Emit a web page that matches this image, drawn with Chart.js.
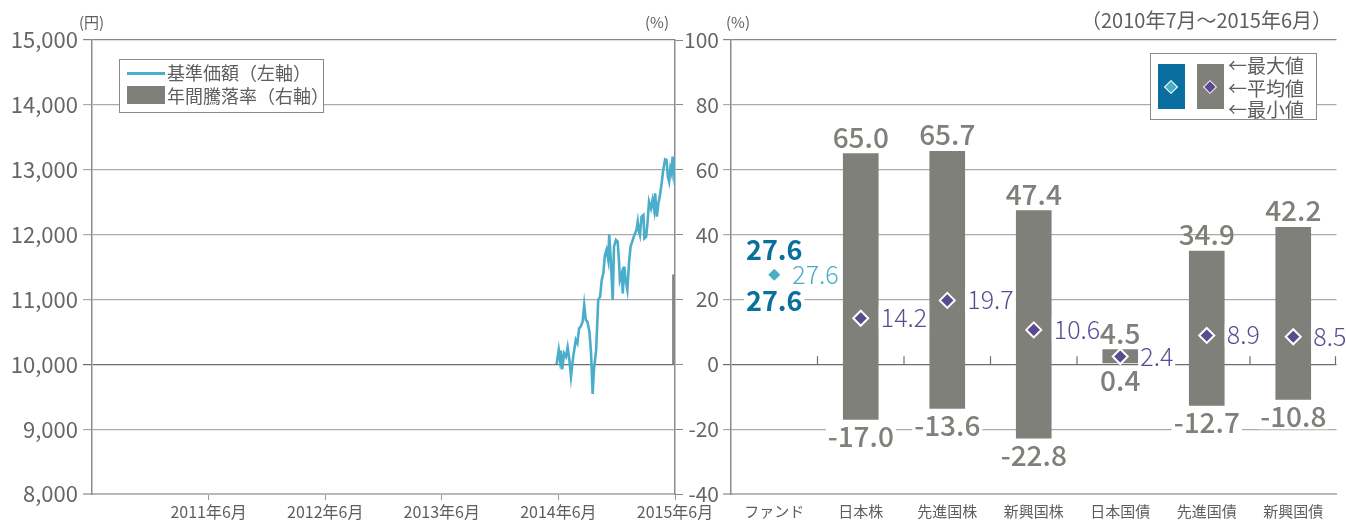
<!DOCTYPE html>
<html><head><meta charset="utf-8">
<script src="https://cdn.jsdelivr.net/npm/chart.js@4.4.1/dist/chart.umd.min.js"></script>
<style>
html,body{margin:0;padding:0;background:#fff;width:1346px;height:520px;overflow:hidden;font-family:"Noto Sans CJK JP",sans-serif;color:#5e5e5e}
#wrap{position:relative;width:1346px;height:520px}
#leftBox{position:absolute;left:0;top:0;width:720px;height:520px}
#rightBox{position:absolute;left:676px;top:0;width:670px;height:520px}
.t{position:absolute;white-space:nowrap;line-height:1}
.lg{position:absolute;background:#fff;border:1.5px solid #8a8a8a;box-sizing:border-box}
.dm{position:absolute;width:8px;height:8px;transform:rotate(45deg);border:1.5px solid #fff;box-sizing:content-box}
</style></head>
<body>
<div id="wrap">
  <div id="leftBox"><canvas id="leftChart"></canvas></div>
  <div id="rightBox"><canvas id="rightChart"></canvas></div>

  <div class="t" style="left:79px;top:14px;font-size:15px;">(円)</div>
  <div class="t" style="left:645px;top:14px;font-size:15px;">(%)</div>
  <div class="t" style="left:726px;top:14px;font-size:15px;">(%)</div>
  <div class="t" style="right:14px;top:10px;font-size:20px;">（2010年7月～2015年6月）</div>

  <div class="lg" style="left:119px;top:59px;width:205px;height:54px;"></div>
  <div style="position:absolute;left:127px;top:72px;width:38px;height:3px;background:#4aaecb"></div>
  <div class="t" style="left:167px;top:63px;font-size:18px;">基準価額（左軸）</div>
  <div style="position:absolute;left:127px;top:86px;width:38px;height:18px;background:#7f807a"></div>
  <div class="t" style="left:167px;top:86px;font-size:18px;">年間騰落率（右軸）</div>

  <div class="lg" style="left:1150px;top:53px;width:167px;height:67px;"></div>
  <div style="position:absolute;left:1158px;top:64px;width:27px;height:45px;background:#0a6f9f"></div>
  <div style="position:absolute;left:1197px;top:64px;width:27px;height:45px;background:#7f807a"></div>
  <div class="dm" style="left:1166px;top:81.5px;background:#4bacc6"></div>
  <div class="dm" style="left:1205px;top:81.5px;background:#5b4a8e"></div>
  <div class="t" style="left:1228px;top:55px;font-size:19px;">←最大値</div>
  <div class="t" style="left:1228px;top:77.5px;font-size:19px;">←平均値</div>
  <div class="t" style="left:1228px;top:99px;font-size:19px;">←最小値</div>
</div>
<script>
// ---------- data: left chart ----------
const navDates = ['2014-06-25','2014-07-01','2014-07-05','2014-07-08','2014-07-12','2014-07-18','2014-07-24','2014-07-29',
 '2014-08-04','2014-08-09','2014-08-16','2014-08-24','2014-08-29','2014-09-04','2014-09-09','2014-09-15','2014-09-20',
 '2014-09-25','2014-09-30','2014-10-06','2014-10-11','2014-10-16','2014-10-20','2014-10-27','2014-11-03','2014-11-09',
 '2014-11-14','2014-11-19','2014-11-24','2014-11-29','2014-12-04','2014-12-07','2014-12-12','2014-12-15','2014-12-18',
 '2014-12-22','2014-12-28','2015-01-03','2015-01-07','2015-01-10','2015-01-16','2015-01-19','2015-01-24','2015-01-28',
 '2015-02-03','2015-02-08','2015-02-13','2015-02-20','2015-02-25','2015-03-01','2015-03-05','2015-03-08','2015-03-12',
 '2015-03-17','2015-03-23','2015-03-26','2015-04-01','2015-04-05','2015-04-10','2015-04-16','2015-04-21','2015-04-26',
 '2015-04-29','2015-05-04','2015-05-09','2015-05-14','2015-05-19','2015-05-24','2015-05-30','2015-06-04','2015-06-08',
 '2015-06-12','2015-06-16','2015-06-20','2015-06-23','2015-06-27','2015-06-30'];
const navValues = [10000,10221,10067,10210,9923,10169,10118,10262,
 10067,9810,10118,10375,10324,10555,10580,10658,10915,
 10683,10658,10503,10169,9542,9912,10221,10992,11043,
 11300,11403,11685,11762,11608,12004,11608,11300,10992,
 11814,11917,11891,11608,11300,11403,11094,11505,11300,
 11146,11557,11814,11917,11994,12071,12199,12071,11994,
 12276,12302,11942,11968,12174,12508,12405,12533,12379,
 12636,12276,12482,12610,12790,12996,13160,13150,12893,
 12816,13022,12944,13201,13047,12765];
const fundReturnDate = '2015-06-25';
const fundReturnValue = 27.6;
const xTickMonths = [12, 24, 36, 48, 60];
const xTickLabels = ['2011年6月','2012年6月','2013年6月','2014年6月','2015年6月'];

// ---------- data: right chart ----------
const categories = ['ファンド','日本株','先進国株','新興国株','日本国債','先進国債','新興国債'];
const maxValues = [27.6, 65.0, 65.7, 47.4, 4.5, 34.9, 42.2];
const avgValues = [27.6, 14.2, 19.7, 10.6, 2.4, 8.9, 8.5];
const minValues = [27.6, -17.0, -13.6, -22.8, 0.4, -12.7, -10.8];

// months since end of June 2010
function toMonths(s){
  const [Y,M,D] = s.split('-').map(Number);
  return (Y-2010)*12 + (M-7) + D/30.5;
}

const FONT = '"Noto Sans CJK JP", sans-serif';
Chart.defaults.font.family = FONT;
Chart.defaults.color = '#666';

const GRID_LIGHT = '#ababab', GRID_DARK = '#6d6d6d', GRID_TOP = '#858585', GRID_BOTTOM = '#b8b8b8';

new Chart(document.getElementById('leftChart'), {
  type: 'line',
  data: {
    datasets: [
      { type:'line', data: navDates.map((d,i)=>({x:toMonths(d), y:navValues[i]})),
        borderColor:'#4aaecb', borderWidth:2.6, pointRadius:0, tension:0, yAxisID:'y', xAxisID:'x', order:0 },
      { type:'bar', data: [{x:toMonths(fundReturnDate), y:fundReturnValue}],
        backgroundColor:'#858680', barThickness:1.6, yAxisID:'y2', xAxisID:'x', order:1 }
    ]
  },
  options: {
    responsive:true, maintainAspectRatio:false, animation:false,
    layout:{ padding:{top:40,left:0,right:0,bottom:0} },
    plugins:{ legend:{display:false}, tooltip:{enabled:false} },
    scales:{
      x:{ type:'linear', min:0, max:60, position:'bottom', offset:false,
        afterBuildTicks:(s)=>{ s.ticks = xTickMonths.map(v=>({value:v})); },
        afterFit:(s)=>{ s.height = 26; },
        ticks:{ autoSkip:false, maxRotation:0, padding:2, font:{size:16}, color:'#5e5e5e',
          callback:(v)=>xTickLabels[xTickMonths.indexOf(v)] },
        grid:{ drawOnChartArea:false, drawTicks:true, tickLength:6, color:'#999', offset:false },
        border:{ color:GRID_BOTTOM, width:2 } },
      y:{ position:'left', min:8000, max:15000,
        afterFit:(s)=>{ s.width = 92; },
        ticks:{ stepSize:1000, padding:5, font:{size:22}, color:'#666',
          callback:(v)=>v.toLocaleString('en-US') },
        grid:{ tickLength:9,
          color:(c)=> c.tick.value===10000?GRID_DARK:(c.tick.value===15000?GRID_TOP:(c.tick.value===8000?GRID_BOTTOM:GRID_LIGHT)),
          lineWidth:(c)=> c.tick.value===8000?2:1.2 },
        border:{ color:'#8c8c8c', width:1.5 } },
      y2:{ position:'right', min:-40, max:100,
        afterFit:(s)=>{ s.width = 45; },
        ticks:{ stepSize:20, display:false },
        grid:{ drawOnChartArea:false, tickLength:8, color:'#8a8a8a' },
        border:{ color:'#8c8c8c', width:1.5 } }
    }
  }
});

function labelBox(ctx, text, x, baseline, align, fontSize){
  const w = ctx.measureText(text).width;
  const left = align==='center' ? x - w/2 : x;
  const capTop = baseline - fontSize*0.74;
  ctx.save(); ctx.fillStyle = '#fff';
  ctx.fillRect(left-2, capTop-2, w+4, baseline-capTop+4);
  ctx.restore();
}

const rangeLabels = {
  id:'rangeLabels',
  afterDatasetsDraw(chart){
    const {ctx, chartArea, scales:{x, y}} = chart;
    ctx.save();
    const y0 = y.getPixelForValue(0);
    ctx.strokeStyle = GRID_DARK; ctx.lineWidth = 1.2;
    for(let i=0;i<categories.length;i++){
      const bx = i<categories.length-1 ? (x.getPixelForValue(i)+x.getPixelForValue(i+1))/2 : chartArea.right-1;
      ctx.beginPath(); ctx.moveTo(bx, y0); ctx.lineTo(bx, y0-8); ctx.stroke();
    }
    categories.forEach((c,i)=>{
      const cx = x.getPixelForValue(i);
      const yMax = y.getPixelForValue(maxValues[i]);
      const yMin = y.getPixelForValue(minValues[i]);
      const yAvg = y.getPixelForValue(avgValues[i]);
      if(i===0){
        ctx.font = 'bold 27px '+FONT; ctx.textAlign='center'; ctx.textBaseline='alphabetic';
        const t = maxValues[i].toFixed(1);
        labelBox(ctx, t, cx, yMax-15, 'center', 27);
        labelBox(ctx, minValues[i].toFixed(1), cx, yMin+36, 'center', 27);
        ctx.fillStyle = '#0b6f9e';
        ctx.fillText(t, cx, yMax-15);
        ctx.fillText(minValues[i].toFixed(1), cx, yMin+36);
        ctx.font = '300 25px '+FONT; ctx.textAlign='left';
        ctx.fillStyle = '#4bacc6';
        ctx.fillText(avgValues[i].toFixed(1), cx+18, yAvg+9);
        return;
      }
      ctx.font = '500 28px '+FONT; ctx.textAlign='center'; ctx.textBaseline='alphabetic';
      ctx.fillStyle = '#7f807a';
      ctx.fillText(maxValues[i].toFixed(1), cx, yMax-6);
      const mt = minValues[i].toFixed(1);
      labelBox(ctx, mt, cx, yMin+28, 'center', 28);
      ctx.fillStyle = '#7f807a';
      ctx.fillText(mt, cx, yMin+28);
      ctx.font = '300 25px '+FONT; ctx.textAlign='left';
      const at = avgValues[i].toFixed(1);
      labelBox(ctx, at, cx+20, yAvg+9, 'left', 25);
      ctx.fillStyle = '#5b4b93';
      ctx.fillText(at, cx+20, yAvg+9);
    });
    ctx.restore();
  }
};

new Chart(document.getElementById('rightChart'), {
  type:'bar',
  data:{
    labels: categories,
    datasets:[
      { type:'line', data: avgValues, showLine:false, pointStyle:'rectRot',
        pointRadius: categories.map((c,i)=> i===0?6:7.5),
        pointBackgroundColor: categories.map((c,i)=> i===0?'#4bacc6':'#5b4a8e'),
        pointBorderColor: categories.map((c,i)=> i===0?'#4bacc6':'#ffffff'),
        pointBorderWidth: categories.map((c,i)=> i===0?0:2),
        order:0 },
      { type:'bar', data: categories.map((c,i)=> minValues[i]===maxValues[i] ? null : [minValues[i], maxValues[i]]),
        backgroundColor: categories.map((c,i)=> i===0?'#0a6f9f':'#7f807a'),
        borderWidth:0, barThickness:35, order:1 }
    ]
  },
  options:{
    responsive:true, maintainAspectRatio:false, animation:false,
    layout:{ padding:{top:40,left:0,right:9,bottom:0} },
    plugins:{ legend:{display:false}, tooltip:{enabled:false} },
    scales:{
      x:{ type:'category',
        afterFit:(s)=>{ s.height = 26; },
        ticks:{ padding:8, font:{size:15}, color:'#5e5e5e', maxRotation:0, autoSkip:false },
        grid:{ display:false, drawTicks:false },
        border:{ color:GRID_BOTTOM, width:2 } },
      y:{ min:-40, max:100,
        afterFit:(s)=>{ s.width = 55; },
        ticks:{ stepSize:20, padding:4, font:{size:21}, color:'#666' },
        grid:{ tickLength:8,
          color:(c)=> c.tick.value===0?GRID_DARK:(c.tick.value===100?GRID_TOP:(c.tick.value===-40?GRID_BOTTOM:GRID_LIGHT)),
          lineWidth:(c)=> c.tick.value===-40?2:1.2 },
        border:{ color:'#8c8c8c', width:1.5 } }
    }
  },
  plugins:[rangeLabels]
});
</script>
</body></html>
